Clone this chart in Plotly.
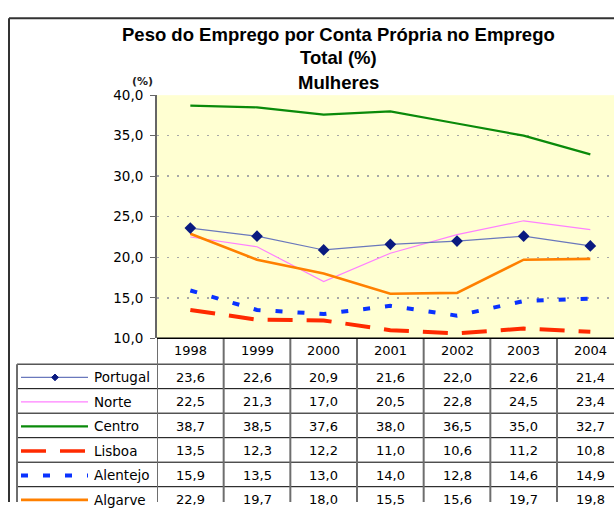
import plotly.graph_objects as go

years = ["1998", "1999", "2000", "2001", "2002", "2003", "2004"]
series_names = ["Portugal", "Norte", "Centro", "Lisboa", "Alentejo", "Algarve"]
portugal = [23.6, 22.6, 20.9, 21.6, 22.0, 22.6, 21.4]
norte = [22.5, 21.3, 17.0, 20.5, 22.8, 24.5, 23.4]
centro = [38.7, 38.5, 37.6, 38.0, 36.5, 35.0, 32.7]
lisboa = [13.5, 12.3, 12.2, 11.0, 10.6, 11.2, 10.8]
alentejo = [15.9, 13.5, 13.0, 14.0, 12.8, 14.6, 14.9]
algarve = [22.9, 19.7, 18.0, 15.5, 15.6, 19.7, 19.8]

values = {"Portugal": portugal, "Norte": norte, "Centro": centro,
          "Lisboa": lisboa, "Alentejo": alentejo, "Algarve": algarve}

styles = {
    "Portugal": dict(color="#6A78BC", width=1.2, dash="solid"),
    "Norte": dict(color="#FF80FF", width=1.2, dash="solid"),
    "Centro": dict(color="#0A8A0A", width=2.2, dash="solid"),
    "Lisboa": dict(color="#FF2A00", width=4, dash="25px,14px"),
    "Alentejo": dict(color="#0A32FF", width=4, dash="7px,15px"),
    "Algarve": dict(color="#FF8000", width=2.6, dash="solid"),
}

W, H = 614, 510
def px(x):
    return x / W
def py(y):
    return 1 - y / H

FONT = "DejaVu Sans"
fig = go.Figure()

xs = list(range(len(years)))
draw_order = ["Norte", "Centro", "Lisboa", "Alentejo", "Algarve", "Portugal"]
for name in draw_order:
    st = styles[name]
    if name == "Portugal":
        kw = dict(mode="lines+markers",
                  marker=dict(symbol="diamond", size=9, color="#0A1A80"))
    else:
        kw = dict(mode="lines")
    fig.add_trace(go.Scatter(x=xs, y=values[name], name=name,
                             line=dict(color=st["color"], width=st["width"], dash=st["dash"]),
                             showlegend=False, cliponaxis=False, hoverinfo="skip", **kw))

shapes = []
annotations = []

header_top = 341
header_bot = 367.7
row_h = 25.3
for k in range(len(series_names) + 1):
    y = header_bot + row_h * k
    if y > H:
        break
    shapes.append(dict(type="line", xref="paper", yref="paper",
                       x0=px(17), x1=1, y0=py(y), y1=py(y),
                       line=dict(color="#000000", width=1)))
for i in range(len(years) + 1):
    shapes.append(dict(type="line", xref="x", yref="paper",
                       x0=i - 0.5, x1=i - 0.5, y0=py(header_top), y1=0,
                       line=dict(color="#6E6E6E", width=2)))
shapes.append(dict(type="line", xref="paper", yref="paper",
                   x0=px(17), x1=px(17), y0=py(header_bot), y1=0,
                   line=dict(color="#6E6E6E", width=2)))
shapes.append(dict(type="line", xref="x", yref="paper",
                   x0=-0.5, x1=6.5, y0=py(header_top), y1=py(header_top),
                   line=dict(color="#000000", width=1.5)))
shapes.append(dict(type="line", xref="paper", yref="paper",
                   x0=px(9), x1=1, y0=py(10.5), y1=py(10.5),
                   line=dict(color="#333333", width=2)))
shapes.append(dict(type="line", xref="paper", yref="paper",
                   x0=px(9), x1=px(9), y0=py(10.5), y1=0,
                   line=dict(color="#333333", width=2)))

for i, yr in enumerate(years):
    annotations.append(dict(x=i, xref="x", y=py(354), yref="paper", text=yr,
                            showarrow=False, xanchor="center", yanchor="middle",
                            font=dict(family=FONT, size=13, color="#000000")))

for r, name in enumerate(series_names):
    yc = header_bot + row_h * (r + 0.5) + 1
    st = styles[name]
    shapes.append(dict(type="line", xref="paper", yref="paper",
                       x0=px(21), x1=px(88), y0=py(yc), y1=py(yc),
                       line=dict(color=st["color"], width=st["width"] if name != "Lisboa" else 3.5,
                                 dash=st["dash"])))
    if name == "Portugal":
        cx, cy, d = 55, yc, 3.4
        path = "M {} {} L {} {} L {} {} L {} {} Z".format(
            px(cx - d), py(cy), px(cx), py(cy - d), px(cx + d), py(cy), px(cx), py(cy + d))
        shapes.append(dict(type="path", xref="paper", yref="paper", path=path,
                           fillcolor="#0A1A80", line=dict(color="#0A1A80", width=1)))
    annotations.append(dict(x=px(92), xref="paper", y=py(yc), yref="paper", text=name,
                            showarrow=False, xanchor="left", yanchor="middle",
                            font=dict(family=FONT, size=13.5, color="#000000")))
    for i, v in enumerate(values[name]):
        annotations.append(dict(x=i, xref="x", y=py(yc), yref="paper",
                                text=("%.1f" % v).replace(".", ","),
                                showarrow=False, xanchor="center", yanchor="middle",
                                font=dict(family=FONT, size=13, color="#000000")))

title_lines = ["Peso do Emprego por Conta Própria no Emprego", "Total (%)", "Mulheres"]
for t, yy in zip(title_lines, [27, 51, 77]):
    annotations.append(dict(x=px(338), xref="paper", y=py(yy), yref="paper",
                            text="<b>%s</b>" % t, showarrow=False,
                            xanchor="center", yanchor="middle",
                            font=dict(family="Liberation Sans", size=18.5, color="#000000")))
annotations.append(dict(x=px(142), xref="paper", y=py(76), yref="paper",
                        text="<b>(%)</b>", showarrow=False, xanchor="center", yanchor="middle",
                        font=dict(family=FONT, size=11, color="#222222")))

fig.update_layout(
    width=W, height=H,
    margin=dict(l=0, r=0, t=0, b=0),
    paper_bgcolor="#FFFFFF",
    plot_bgcolor="#FFFFD2",
    separators=", ",
    shapes=shapes,
    annotations=annotations,
    hovermode=False,
    xaxis=dict(domain=[px(157), 1], range=[-0.5, 6.355], showticklabels=False,
               showgrid=False, zeroline=False, ticks="", showline=False, fixedrange=True),
    yaxis=dict(domain=[py(341), py(90)], range=[10, 40], tick0=10, dtick=5,
               tickformat=".1f", showgrid=True, gridcolor="#A8A8A8", griddash="2px,8px",
               gridwidth=1.5, zeroline=False, showline=True, linecolor="#666666", linewidth=2,
               ticks="outside", ticklen=5, tickcolor="#666666", ticklabelstandoff=4,
               tickfont=dict(family=FONT, size=13.5, color="#000000"), fixedrange=True),
    showlegend=False,
)

fig.write_html("out.html", config={"displayModeBar": False, "staticPlot": True},
               post_script="document.body.style.margin='0';document.body.style.overflow='hidden';")
